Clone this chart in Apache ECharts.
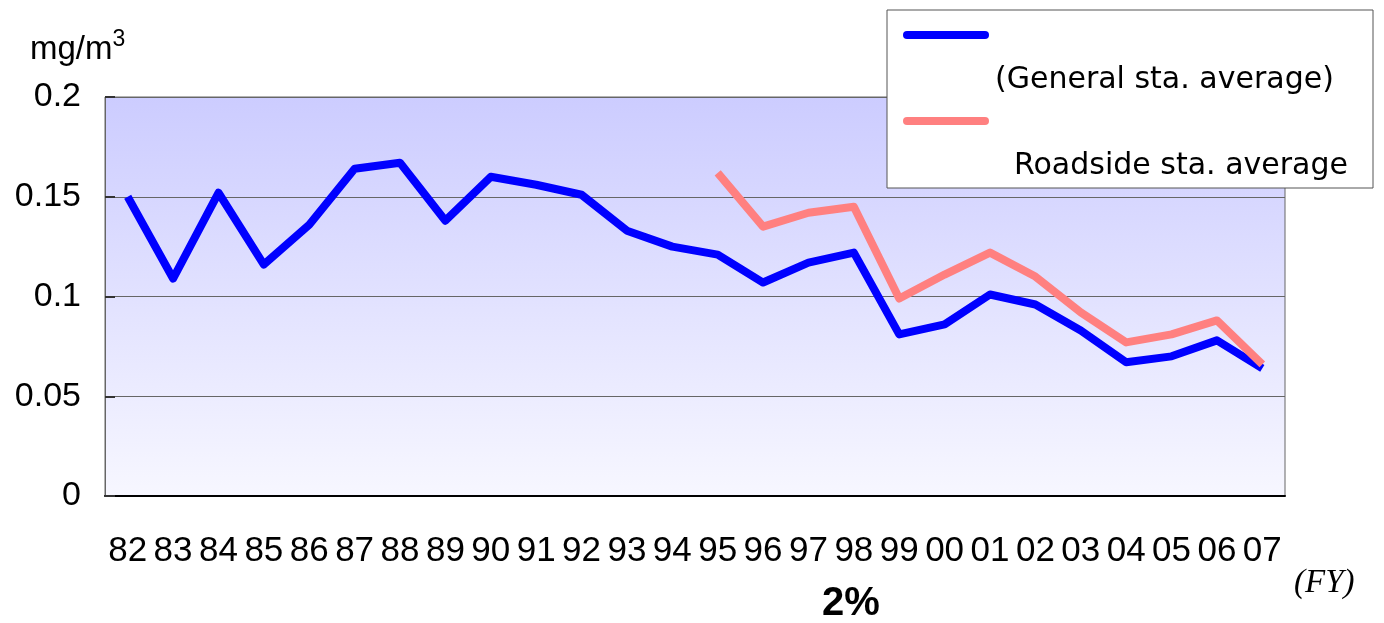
<!DOCTYPE html>
<html>
<head>
<meta charset="utf-8">
<script src="https://cdn.jsdelivr.net/npm/echarts@6/dist/echarts.min.js"></script>
<style>html,body{margin:0;padding:0;background:#fff;}#c{width:1384px;height:623px;}</style>
</head>
<body>
<div id="c"></div>
<script>
var years = ['82','83','84','85','86','87','88','89','90','91','92','93','94','95','96','97','98','99','00','01','02','03','04','05','06','07'];
var generalAvg = [0.150,0.109,0.152,0.116,0.136,0.164,0.167,0.138,0.160,0.156,0.151,0.133,0.125,0.121,0.107,0.117,0.122,0.081,0.086,0.101,0.096,0.083,0.067,0.070,0.078,0.064];
var roadsideAvg = [null,null,null,null,null,null,null,null,null,null,null,null,null,0.162,0.135,0.142,0.145,0.099,0.111,0.122,0.110,0.092,0.077,0.081,0.088,0.066];
var yTicks = [0, 0.05, 0.1, 0.15, 0.2];
var yTickLabels = ['0', '0.05', '0.1', '0.15', '0.2'];
var legendNames = ['(General sta. average)', 'Roadside sta. average'];

var font = "'Liberation Sans', Arial, sans-serif";
var wideFont = "'DejaVu Sans', 'Liberation Sans', sans-serif";
var chart = echarts.init(document.getElementById('c'));
chart.setOption({
  animation: false,
  grid: {
    left: 105, right: 99, top: 97, bottom: 127,
    show: true,
    borderColor: '#666',
    borderWidth: 1,
    backgroundColor: new echarts.graphic.LinearGradient(0, 0, 0, 1, [
      {offset: 0, color: '#CCCCFF'},
      {offset: 1, color: '#F7F7FF'}
    ])
  },
  xAxis: {
    type: 'category',
    data: years,
    boundaryGap: true,
    axisLine: {lineStyle: {color: '#000', width: 2}},
    axisTick: {inside: true, length: 10, lineStyle: {color: '#000', width: 1}},
    axisLabel: {color: '#000', fontFamily: font, fontSize: 35, margin: 38, interval: 0}
  },
  yAxis: {
    type: 'value',
    min: yTicks[0], max: yTicks[yTicks.length - 1], interval: 0.05,
    axisLine: {show: true, lineStyle: {color: '#666', width: 1}},
    axisTick: {show: true, inside: true, length: 10, lineStyle: {color: '#333', width: 2}},
    splitLine: {lineStyle: {color: '#666', width: 1}},
    axisLabel: {
      color: '#000', fontFamily: font, fontSize: 34, margin: 24,
      formatter: function (v) {
        var i = yTicks.findIndex(function (t) { return Math.abs(t - v) < 1e-9; });
        return i >= 0 ? yTickLabels[i] : '';
      }
    }
  },
  series: [
    {name: legendNames[0], type: 'line', data: generalAvg, showSymbol: false, symbol: 'none',
     lineStyle: {color: '#0000FF', width: 8, join: 'round'}, itemStyle: {color: '#0000FF'}},
    {name: legendNames[1], type: 'line', data: roadsideAvg, showSymbol: false, symbol: 'none', connectNulls: false,
     lineStyle: {color: '#FF8080', width: 8, join: 'round'}, itemStyle: {color: '#FF8080'}}
  ],
  graphic: [
    {type: 'text', x: 30, y: 66, style: {
      text: '{a|mg/m}{s|3}', verticalAlign: 'bottom', rich: {
        a: {fontSize: 33, fontFamily: font, fill: '#000', verticalAlign: 'bottom'},
        s: {fontSize: 23, fontFamily: font, fill: '#000', verticalAlign: 'bottom', padding: [0,0,15,0]}
      }}},
    {type: 'rect', shape: {x: 887, y: 10, width: 486, height: 178},
     style: {fill: '#fff', stroke: '#555', lineWidth: 1}, z: 100},
    {type: 'line', shape: {x1: 907, y1: 35, x2: 985, y2: 35},
     style: {stroke: '#0000FF', lineWidth: 8, lineCap: 'round'}, z: 101},
    {type: 'text', x: 995, y: 80, style: {text: legendNames[0], fontSize: 30, fontFamily: wideFont, fill: '#000', verticalAlign: 'middle'}, z: 101},
    {type: 'line', shape: {x1: 907, y1: 121, x2: 985, y2: 121},
     style: {stroke: '#FF8080', lineWidth: 8, lineCap: 'round'}, z: 101},
    {type: 'text', x: 1014, y: 166, style: {text: legendNames[1], fontSize: 30, fontFamily: wideFont, fill: '#000', verticalAlign: 'middle'}, z: 101},
    {type: 'text', x: 1294, y: 583, style: {text: '(FY)', fontSize: 33, fontFamily: "'Liberation Serif', serif", fontStyle: 'italic', fill: '#000', verticalAlign: 'middle'}},
    {type: 'text', x: 822, y: 604, style: {text: '2%', fontSize: 40, fontFamily: font, fontWeight: 'bold', fill: '#000', verticalAlign: 'middle'}}
  ]
});
</script>
</body>
</html>
